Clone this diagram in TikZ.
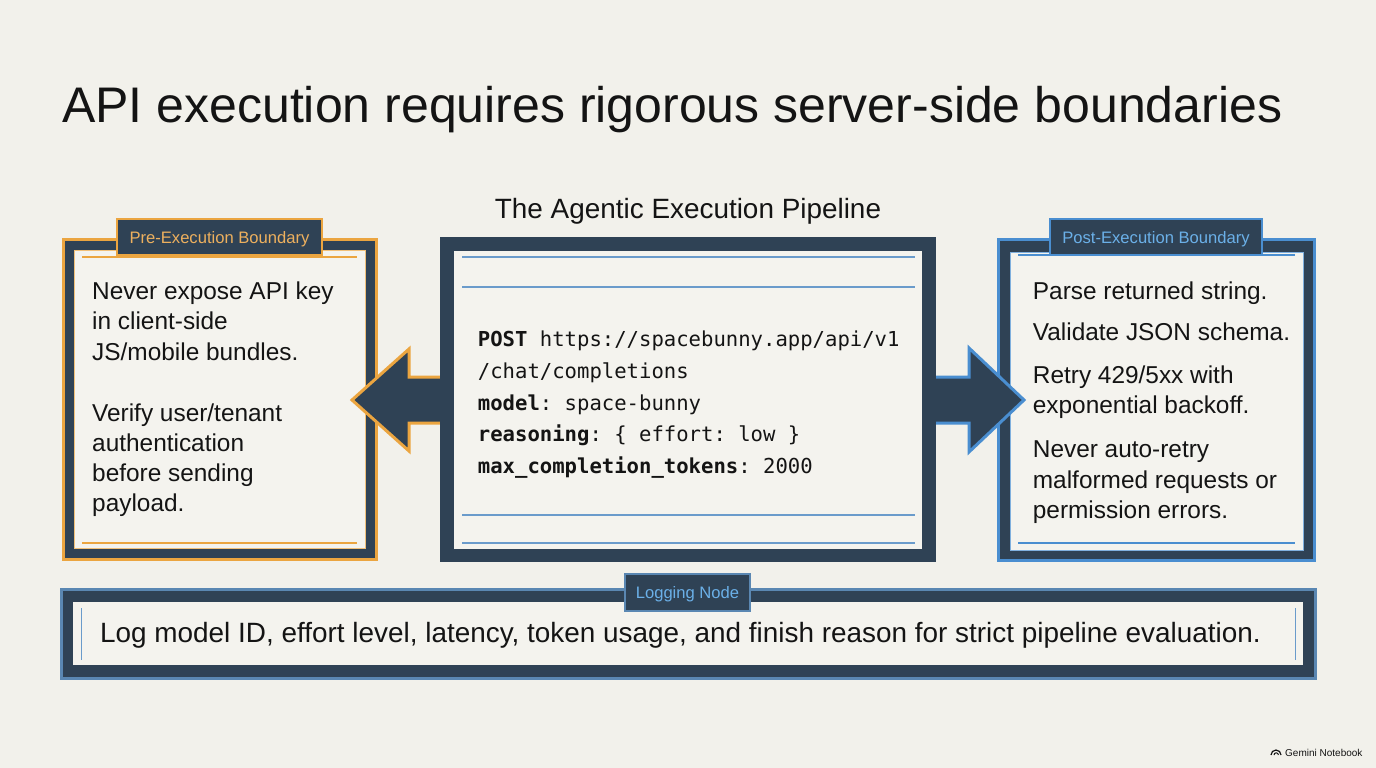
\documentclass[tikz,border=0pt]{standalone}
\usepackage{fontspec}
\setmainfont{Liberation Sans}
\setmonofont{DejaVu Sans Mono}
\definecolor{bg}{HTML}{F2F1EB}
\definecolor{navy}{HTML}{2F4255}
\definecolor{orng}{HTML}{EBA540}
\definecolor{blu}{HTML}{4A8ED0}
\definecolor{steel}{HTML}{5A87B2}
\definecolor{panel}{HTML}{F4F3EE}
\definecolor{ink}{HTML}{141414}
\definecolor{lblor}{HTML}{EDB05E}
\definecolor{lblbl}{HTML}{6BB0E8}
\definecolor{thinbl}{HTML}{6A9BCB}
\tikzset{
  frame/.style={fill=navy, inner sep=0, outer sep=0},
  pnl/.style={fill=panel, inner sep=0, outer sep=0},
  tab/.style={fill=navy, line width=2pt, inner sep=0, outer sep=0},
  body/.style={font=\fontsize{24.4}{30.2}\selectfont, align=left, inner sep=0, text=ink},
  code/.style={font=\ttfamily\fontsize{20.6}{31.6}\selectfont, align=left, inner sep=0, text=ink},
  lbl/.style={font=\fontsize{16.6}{18}\selectfont, inner sep=0},
  thin/.style={line width=1.2pt},
  arr/.style={fill=navy, line width=3pt, line join=miter},
}
\begin{document}
\begin{tikzpicture}[x=1pt,y=-1pt]
\useasboundingbox (0,0) rectangle (1376,768);
\fill[bg] (0,0) rectangle (1376,768);

% title
\node[anchor=base west, inner sep=0, text=ink, font=\fontsize{50}{56}\selectfont] (title) at (62,122) {API execution requires rigorous server-side boundaries};
\node[anchor=base, inner sep=0, text=ink, font=\fontsize{27.9}{32}\selectfont] (subtitle) at (688,218) {The Agentic Execution Pipeline};

% left box
\node[frame, draw=orng, line width=3pt, minimum width=313, minimum height=320] (pre) at (220,399.5) {};
\node[pnl, draw=orng!70, line width=0.8pt, minimum width=291, minimum height=298] (prein) at (219.5,399) {};
\draw[orng, thin] (82,257) -- (357,257);
\draw[orng, thin] (82,543) -- (357,543);
\node[tab, draw=orng, minimum width=205, minimum height=36] (pretab) at (219.5,237) {};
\node[lbl, text=lblor, anchor=base] (pretabtxt) at (219.5,243) {Pre-Execution Boundary};
\node[body, anchor=base west] (pretxta) at (92,360) {Never expose API key\\in client-side\\JS/mobile bundles.};
\node[body, anchor=base west] (pretxtb) at (92,511.7) {Verify user/tenant\\authentication\\before sending\\payload.};

% right box
\node[frame, draw=blu, line width=3pt, minimum width=316, minimum height=321] (post) at (1156.5,399.5) {};
\node[pnl, draw=blu!70, line width=0.8pt, minimum width=293, minimum height=298] (postin) at (1156.5,401) {};
\draw[blu, thin] (1018,255) -- (1295,255);
\draw[blu, thin] (1018,543) -- (1295,543);
\node[tab, draw=blu, minimum width=212, minimum height=36] (posttab) at (1156,237) {};
\node[lbl, text=lblbl, anchor=base] (posttabtxt) at (1156,243) {Post-Execution Boundary};
\node[body, anchor=base west] (posttxta) at (1032.7,299.3) {Parse returned string.};
\node[body, anchor=base west] (posttxtb) at (1032.7,340.7) {Validate JSON schema.};
\node[body, anchor=base west] (posttxtc) at (1032.7,413.3) {Retry 429/5xx with\\exponential backoff.};
\node[body, anchor=base west] (posttxtd) at (1032.7,518.3) {Never auto-retry\\malformed requests or\\permission errors.};

% arrows
\draw[arr, draw=orng] (470,377) -- (409,377) -- (409,349) -- (352,400) -- (409,451) -- (409,423) -- (470,423) -- cycle;
\draw[arr, draw=blu] (905,377) -- (969,377) -- (969,348) -- (1024,400) -- (969,452) -- (969,423) -- (905,423) -- cycle;

% center box
\node[frame, minimum width=496, minimum height=325] (pipe) at (688,399.5) {};
\node[pnl, minimum width=468, minimum height=298] (pipein) at (688,400) {};
\draw[thinbl, thin] (462,257) -- (915,257);
\draw[thinbl, thin] (462,287) -- (915,287);
\draw[thinbl, thin] (462,515) -- (915,515);
\draw[thinbl, thin] (462,543) -- (915,543);
\node[code, anchor=base west] (codetxt) at (477.7,473.3) {\textbf{POST} https://spacebunny.app/api/v1\\/chat/completions\\\textbf{model}: space-bunny\\\textbf{reasoning}: \{ effort: low \}\\\textbf{max\_completion\_tokens}: 2000};

% logging box
\node[frame, draw=steel, line width=3pt, minimum width=1254, minimum height=89] (log) at (688,634) {};
\node[pnl, minimum width=1230, minimum height=63] (login) at (688,633.5) {};
\draw[thinbl, line width=0.8pt] (81,608) -- (81,660);
\draw[thinbl, line width=0.8pt] (1295,608) -- (1295,660);
\node[tab, draw=steel, minimum width=125, minimum height=37] (logtab) at (687.5,592.5) {};
\node[lbl, text=lblbl, anchor=base] (logtabtxt) at (687.5,598) {Logging Node};
\node[body, font=\fontsize{27.9}{32}\selectfont, anchor=base west] (logtxt) at (100,642.7) {Log model ID, effort level, latency, token usage, and finish reason for strict pipeline evaluation.};

% watermark
\draw[ink, line width=1.2pt] (1271,755) arc (-180:0:5);
\draw[ink, line width=1pt] (1274,755) arc (-180:0:2.2);
\node[anchor=base west, inner sep=0, text=ink, font=\fontsize{10}{12}\selectfont] (wm) at (1285,756) {Gemini Notebook};
\end{tikzpicture}
\end{document}
